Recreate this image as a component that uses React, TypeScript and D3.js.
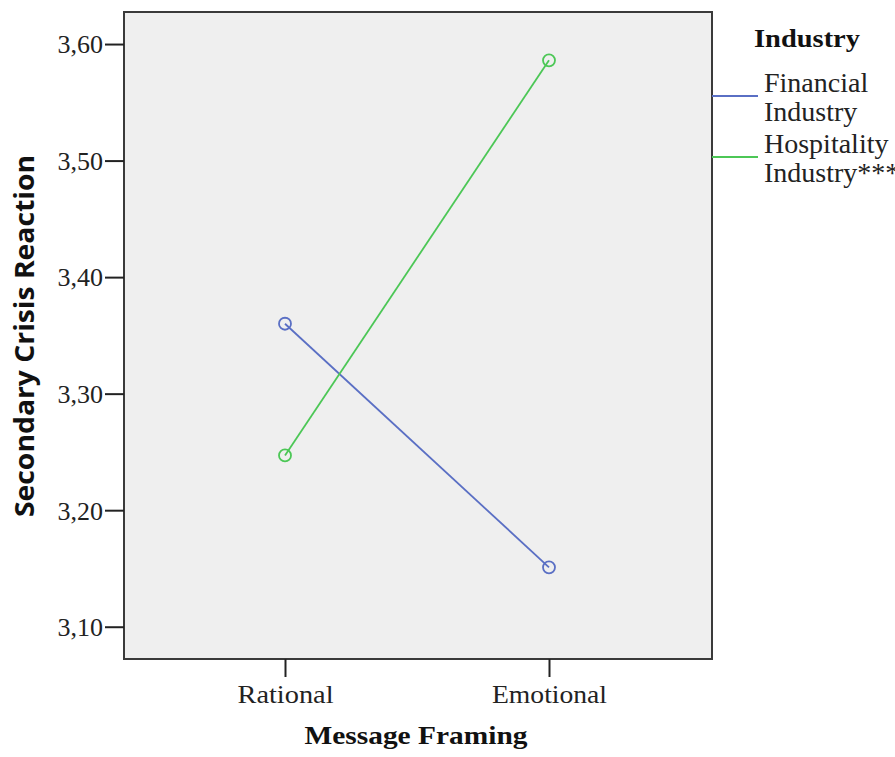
import React, { useEffect, useRef } from 'react';
import { select, scaleLinear, scalePoint, axisLeft, axisBottom, line } from 'd3';

const framings = ['Rational', 'Emotional'];
const industries = ['Financial Industry', 'Hospitality Industry***'];
const legendLines = [['Financial', 'Industry'], ['Hospitality', 'Industry***']];
const financial = [3.36, 3.151];
const hospitality = [3.247, 3.586];
const yTicks = [3.1, 3.2, 3.3, 3.4, 3.5, 3.6];
const colors = ['#5a6fc4', '#4cc756'];

const W = 895;
const H = 757;

const App = () => {
  const svgRef = useRef<SVGSVGElement>(null);

  useEffect(() => {
    const svg = select(svgRef.current);
    svg.selectAll('*').remove();

    const left = 124, right = 712, top = 12, bottom = 659;
    const serif = '"Liberation Serif", "Times New Roman", serif';

    const y = scaleLinear().domain([3.0723, 3.6275]).range([bottom, top]);
    const x = scalePoint().domain(framings).range([285, 549]);

    // plot background + frame
    svg.append('rect')
      .attr('x', left).attr('y', top)
      .attr('width', right - left).attr('height', bottom - top)
      .attr('fill', '#efefef')
      .attr('stroke', '#3a3a3a')
      .attr('stroke-width', 2);

    const yAxis = axisLeft(y)
      .tickValues(yTicks)
      .tickSize(19)
      .tickFormat(d => (d as number).toFixed(2).replace('.', ','));
    const gy = svg.append('g').attr('transform', `translate(${left},0)`).call(yAxis);
    gy.select('.domain').remove();
    gy.selectAll('.tick line').attr('stroke', '#222').attr('stroke-width', 2);
    gy.selectAll('.tick text')
      .attr('font-family', serif).attr('font-size', 26).attr('fill', '#222')
      .attr('x', -21).attr('dy', '0.34em');

    const xAxis = axisBottom(x).tickSize(18);
    const gx = svg.append('g').attr('transform', `translate(0,${bottom})`).call(xAxis);
    gx.select('.domain').remove();
    gx.selectAll('.tick line').attr('stroke', '#222').attr('stroke-width', 2);
    gx.selectAll('.tick text')
      .attr('font-family', serif).attr('font-size', 26).attr('fill', '#222')
      .attr('y', 44).attr('dy', 0)
      .attr('textLength', (d: any) => (d === 'Rational' ? 96 : 115))
      .attr('lengthAdjust', 'spacingAndGlyphs');

    const series = [financial, hospitality];
    const lineGen = line<number>()
      .x((_, i) => x(framings[i]) as number)
      .y(d => y(d));

    series.forEach((vals, si) => {
      svg.append('path')
        .attr('d', lineGen(vals))
        .attr('fill', 'none')
        .attr('stroke', colors[si])
        .attr('stroke-width', 1.8);
      svg.selectAll(`.pt${si}`)
        .data(vals)
        .join('circle')
        .attr('class', `pt${si}`)
        .attr('cx', (_, i) => x(framings[i]) as number)
        .attr('cy', d => y(d))
        .attr('r', 6)
        .attr('fill', 'none')
        .attr('stroke', colors[si])
        .attr('stroke-width', 1.8);
    });

    // axis titles
    svg.append('text')
      .attr('transform', `translate(34,${(top + bottom) / 2 + 0.5}) rotate(-90)`)
      .attr('text-anchor', 'middle')
      .attr('font-family', '"Open Sans", "DejaVu Sans", sans-serif')
      .attr('font-weight', 'bold')
      .attr('font-size', 26)
      .attr('textLength', 362)
      .attr('lengthAdjust', 'spacingAndGlyphs')
      .attr('fill', '#111')
      .text('Secondary Crisis Reaction');

    svg.append('text')
      .attr('x', 416).attr('y', 744)
      .attr('text-anchor', 'middle')
      .attr('font-family', serif)
      .attr('font-weight', 'bold')
      .attr('font-size', 26)
      .attr('textLength', 223)
      .attr('lengthAdjust', 'spacingAndGlyphs')
      .attr('fill', '#111')
      .text('Message Framing');

    // legend
    svg.append('text')
      .attr('x', 754).attr('y', 47)
      .attr('font-family', serif)
      .attr('font-weight', 'bold')
      .attr('font-size', 26)
      .attr('textLength', 106)
      .attr('lengthAdjust', 'spacingAndGlyphs')
      .attr('fill', '#111')
      .text('Industry');

    const lg = svg.selectAll('.legend')
      .data(industries)
      .join('g')
      .attr('class', 'legend')
      .attr('transform', (_, i) => `translate(0,${i * 61})`);
    lg.append('line')
      .attr('x1', right).attr('x2', 758)
      .attr('y1', 96).attr('y2', 96)
      .attr('stroke', (_, i) => colors[i])
      .attr('stroke-width', 2);
    lg.each(function (_, i) {
      const g = select(this);
      legendLines[i].forEach((t, j) => {
        g.append('text')
          .attr('x', 764).attr('y', 92 + j * 29)
          .attr('font-family', serif)
          .attr('font-size', 28)
          .attr('fill', '#222')
          .text(t);
      });
    });
  }, []);

  return (
    <svg ref={svgRef} width={W} height={H} style={{ position: 'absolute', left: 0, top: 0, background: '#fff' }} />
  );
};

export default App;
